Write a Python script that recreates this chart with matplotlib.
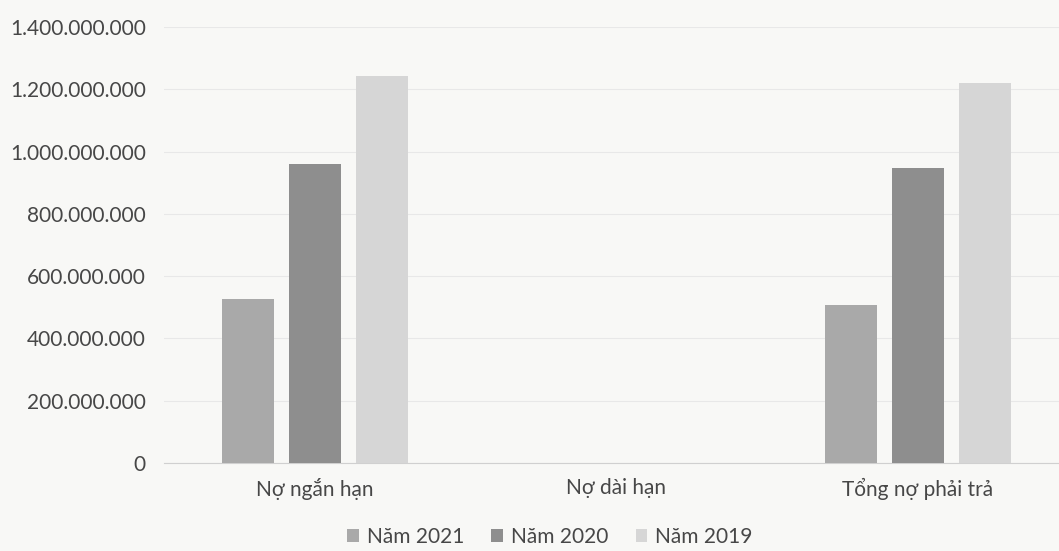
import matplotlib
matplotlib.use('Agg')
import matplotlib.pyplot as plt
import numpy as np
from matplotlib.ticker import FuncFormatter

# ─── Dữ liệu ──────────────────────────────────────────────────────────────────
categories = ["Nợ ngắn hạn", "Nợ dài hạn", "Tổng nợ phải trả"]
series = ["Năm 2021", "Năm 2020", "Năm 2019"]
nam_2021 = [526_000_000, 0, 507_000_000]
nam_2020 = [960_000_000, 0, 947_000_000]
nam_2019 = [1_242_000_000, 0, 1_220_000_000]

colors = ["#a9a9a9", "#8e8e8e", "#d6d6d6"]
text_color = "#474747"

plt.rcParams['font.family'] = ['Lato', 'DejaVu Sans']

fig = plt.figure(figsize=(10.59, 5.51), dpi=100, facecolor="#f8f8f6")
ax = fig.add_axes([164 / 1059, 88 / 551, 1 - 164 / 1059, (463 - 27) / 551])
ax.set_facecolor("#f8f8f6")

x = np.arange(len(categories))
width = 0.172
step = 0.222
for i, (vals, name) in enumerate(zip([nam_2021, nam_2020, nam_2019], series)):
    ax.bar(x + (i - 1) * step, vals, width, color=colors[i], label=name, zorder=3)

ax.set_xlim(-0.5, -0.5 + (1059 - 164) / 301.5)
ax.set_ylim(0, 1_400_000_000)
ax.set_yticks(np.arange(0, 1_400_000_001, 200_000_000))
ax.yaxis.set_major_formatter(FuncFormatter(lambda v, _: f"{int(v):,}".replace(",", ".")))
ax.set_xticks(x)
ax.set_xticklabels(categories)

ax.grid(axis='y', color="#e8e8e8", linewidth=0.8, zorder=0)
for s in ["top", "right", "left"]:
    ax.spines[s].set_visible(False)
ax.spines["bottom"].set_color("#d0d0d0")
ax.tick_params(axis='both', length=0, colors=text_color, labelsize=15)
ax.tick_params(axis='y', pad=13)
ax.tick_params(axis='x', pad=11)

fig.legend(loc="center", bbox_to_anchor=(550 / 1059, 1 - 537 / 551), ncol=3,
           frameon=False, fontsize=15, labelcolor=text_color,
           handlelength=0.55, handleheight=0.55, handletextpad=0.4, columnspacing=1.3)

fig.savefig("out.png", dpi=100, facecolor=fig.get_facecolor())
